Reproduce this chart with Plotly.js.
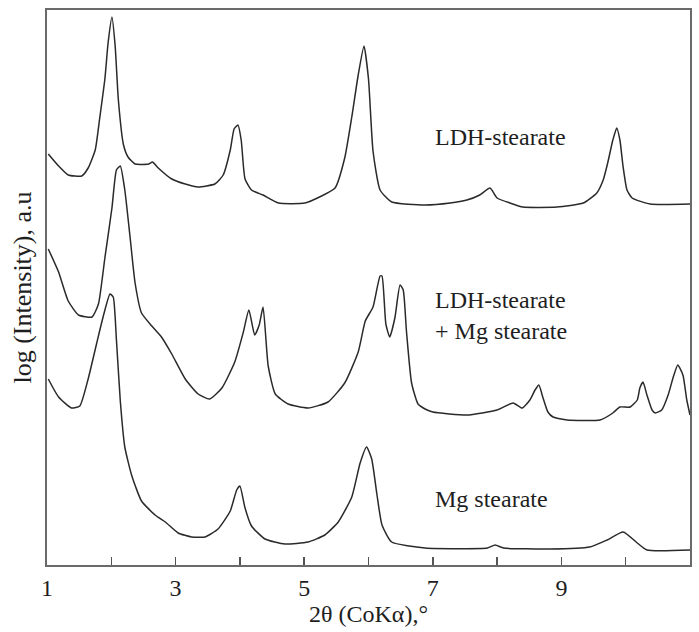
<!DOCTYPE html>
<html>
<head>
<meta charset="utf-8">
<script src="https://cdn.plot.ly/plotly-3.0.1.min.js"></script>
<style>html,body{margin:0;padding:0;background:#fff;}</style>
</head>
<body>
<div id="chart" style="width:699px;height:632px;"></div>
<script>
// 2θ (CoKα), degrees  /  log intensity (arbitrary units, offset traces)
const ldhX = [1.02,1.18,1.33,1.54,1.64,1.75,1.82,1.90,1.95,2.01,2.06,2.11,2.19,2.26,2.37,2.58,2.64,2.73,2.94,3.15,3.35,3.61,3.74,3.85,3.91,3.97,4.02,4.08,4.18,4.36,4.60,5.01,5.27,5.48,5.63,5.74,5.84,5.93,6.00,6.07,6.18,6.36,6.88,7.27,7.53,7.73,7.89,8.00,8.20,8.40,8.93,9.34,9.55,9.65,9.72,9.80,9.86,9.91,9.96,10.02,10.10,10.38,11.00];
const ldhY = [411,399,390,389,397,415,447,486,522,548,519,465,420,408,401,401,403,397,386,381,378,381,390,415,436,440,425,386,375,370,362,362,369,377,407,448,490,519,486,414,375,363,360,362,365,370,377,367,362,358,358,362,372,385,402,425,437,425,398,375,367,361,361];

const mixX = [1.02,1.18,1.33,1.49,1.70,1.80,1.90,2.01,2.08,2.14,2.21,2.29,2.37,2.47,2.63,2.78,2.94,3.15,3.35,3.53,3.72,3.92,4.05,4.14,4.23,4.30,4.36,4.44,4.55,4.75,5.06,5.37,5.63,5.84,5.95,6.07,6.18,6.21,6.27,6.33,6.41,6.49,6.54,6.59,6.67,6.77,6.88,7.00,7.53,8.00,8.25,8.39,8.51,8.59,8.65,8.71,8.79,8.87,9.09,9.60,9.80,9.91,10.07,10.18,10.22,10.27,10.33,10.41,10.46,10.56,10.66,10.74,10.81,10.89,10.95,11.00];
const mixY = [316,293,264,250,248,261,307,357,395,399,375,329,282,252,239,228,211,186,171,166,177,203,232,255,230,240,258,199,171,161,157,163,182,213,244,258,289,289,241,228,247,280,275,234,182,161,156,153,150,155,162,157,165,175,180,168,153,148,145,145,152,158,158,165,177,183,170,155,152,155,170,188,200,190,165,150];

const mgX = [1.02,1.18,1.38,1.51,1.64,1.77,1.88,1.98,2.03,2.08,2.14,2.21,2.32,2.47,2.68,2.84,3.04,3.25,3.46,3.66,3.85,3.95,4.00,4.08,4.18,4.39,4.70,5.06,5.32,5.53,5.74,5.87,5.97,6.05,6.13,6.21,6.36,6.88,7.85,7.97,8.10,8.82,9.44,9.71,9.96,10.18,10.33,11.00];
const mgY = [186,168,157,159,186,221,250,271,268,225,164,118,89,64,50,43,32,28,28,36,54,75,79,57,39,26,21,23,30,43,68,102,118,106,71,40,23,17,17,20,17,16,18,25,33,22,15,15];

const tickVals = [1,2,3,4,5,6,7,8,9,10,11];
const tickText = ['1','','3','','5','','7','','9','','11'];
const labels = ['LDH-stearate', 'LDH-stearate<br>+ Mg stearate', 'Mg stearate'];
const labelX = [7.0, 7.0, 7.0];
const labelY = [428, 250, 66];

const lineStyle = {color:'#2a2a2a', width:1.5, shape:'spline', smoothing:0.5};
const traces = [
  {x: ldhX, y: ldhY, mode:'lines', line: lineStyle, name: labels[0]},
  {x: mixX, y: mixY, mode:'lines', line: lineStyle, name: labels[1]},
  {x: mgX, y: mgY, mode:'lines', line: lineStyle, name: labels[2]}
];

const fam = '"Liberation Serif", "Times New Roman", serif';
const font = {family: fam, size:24, color:'#1e1e1e'};

const layout = {
  width: 699, height: 632,
  margin: {l:47, r:9, t:10, b:67},
  paper_bgcolor:'#fff', plot_bgcolor:'#fff',
  showlegend:false,
  font: font,
  xaxis: {
    range:[1,11], tickmode:'array', tickvals: tickVals, ticktext: tickText,
    ticks:'inside', ticklen:8, tickwidth:1.5, tickcolor:'#555',
    showline:true, linecolor:'#6a6a6a', linewidth:2, mirror:true,
    showgrid:false, zeroline:false,
    tickfont: font,
    title:{text:'2θ (CoKα),°', font: font, standoff: 4}
  },
  yaxis: {
    range:[0,555], showticklabels:false, ticks:'',
    showline:true, linecolor:'#6a6a6a', linewidth:2, mirror:true,
    showgrid:false, zeroline:false,
    title:{text:'log (Intensity), a.u', font: {family: fam, size:26, color:'#1e1e1e'}, standoff: 6}
  },
  annotations: labels.map((t,i)=>({
    x: labelX[i], y: labelY[i], xref:'x', yref:'y', text: t, showarrow:false,
    xanchor:'left', yanchor:'middle', align:'left', font: font
  }))
};

Plotly.newPlot('chart', traces, layout, {displayModeBar:false, staticPlot:true});
</script>
</body>
</html>
